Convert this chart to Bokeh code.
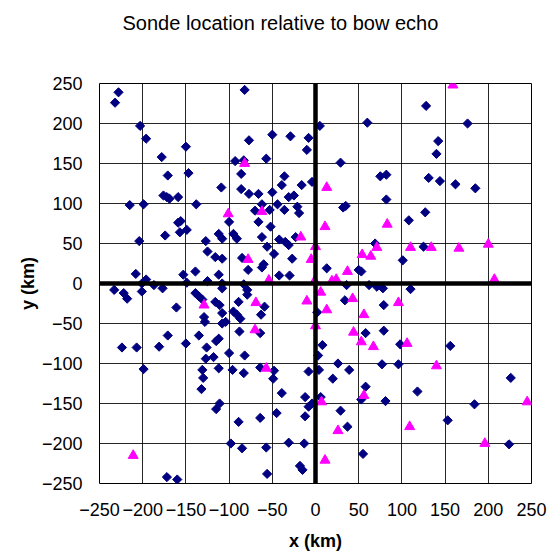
from bokeh.plotting import figure
from bokeh.models import FixedTicker, Span, Title
from bokeh.embed import file_html
from bokeh.resources import INLINE

tick_values = [-250, -200, -150, -100, -50, 0, 50, 100, 150, 200, 250]

diamond_x = [-228, -232, -203, -196, -178, -150, -171, -147, -109, -176, -172, -169, -159, -215, -199, -138,
             -82, 5, 60, -50, -29, -8, -77, -10, 29, -93, -83, -57, -86, 75, -36, -4, -39, -16, -86, -77, -66,
             -50, -31, -25, -44, -62, -70, -53, -36, -21, 32, 35, -19,
             128, 176, 142, 140, 82, 131, 144, 162, 185, 82, 127,
             -174, -204, -159, -156, -157, -149, -127, -125, -116, -108, -112,
             -208, -196, -201, -201, -233, -222, -218, -187, -177, -153, -149, -139, -125, -112, -108, -139, -135,
             -131, -161, -129, -128, -116, -111, -108, -108, -171, -135, -112, -115, -224, -207, -181, -150, -126,
             -199, -131, -127, -118, -112, -130, -132, -115, -111, -172, -160,
             -100, -66, -52, -108, -95, -91, -62, -42, -35, -31, -23, -56, -48, -27, -85, -60, -78, -62, 13, 50, 53,
             69, -42, -30, -83, -79, -108, 36, 62, 71, 34, -89, -79, -59, -63, -95, -91, -87, 2, -104, -88, -64, 58, 8,
             108, 125, 101, 78, 110, 79, 79, 98, 156,
             -100, -82, -96, -83, -64, -48, -49, -39, -8, 4, 3, 26, 39, 20, 58, 53, -12, 6, -4, -8, -45, -64, -89,
             -12, 29, 37, -98, -85, -57, -31, -13, 55, -18, -15, -56,
             77, 96, 226, 118, 81, 184, 153, 224]
diamond_y = [239, 226, 197, 181, 158, 171, 135, 138, 120, 110, 108, 106, 108, 98, 99, 99,
             242, 197, 201, 186, 184, 182, 179, 167, 151, 153, 154, 156, 137, 134, 134, 127, 123, 123, 118, 112, 112,
             114, 108, 110, 99, 99, 91, 92, 92, 96, 95, 97, 88,
             222, 200, 178, 162, 136, 132, 128, 124, 119, 105, 89,
             60, 53, 76, 78, 64, 67, 53, 40, 33, 31, 62,
             12, 5, 0, -10, -8, -12, -19, -2, -6, 11, 1, 15, 3, 11, 0, -12, -16,
             -20, -30, -42, -48, -23, -27, -37, -50, -65, -65, -69, -72, -80, -80, -79, -75, -80,
             -107, -108, -94, -92, -106, -118, -132, -157, -150, -242, -245,
             77, 77, 71, 56, 62, 56, 58, 55, 52, 48, 58, 46, 37, 31, 32, 24, 17, 20, 19, 17, 15,
             50, 10, 10, -1, -8, -6, -2, -2, -4, -21, -23, -14, -29, -39, -35, -39, -44, -36, -48, -60, -62, -62, -77,
             79, 46, 29, -6, -7, -27, -59, -76, -78,
             -87, -90, -108, -112, -105, -109, -119, -137, -110, -108, -90, -100, -108, -119, -129, -145, -142, -142,
             -150, -154, -162, -168, -173,
             -166, -159, -179, -200, -206, -205, -199, -200, -213, -228, -233, -238,
             -101, -101, -118, -135, -147, -151, -171, -201]

triangle_x = [-82, 13, -101, -62, 159, 11, -17, 0, -5, -78, 37, 54, 64, 71, -54, -1, 19, 24, 6, -10, 43, -69, 13,
              56, 0, -70, 44, 53, 67, -129, -211, 83, 110, 134, 166, 200, 207, 96, 106, -57, 56, 7, 26, 11, 140,
              245, 109, 196]
triangle_y = [150, 120, 87, 90, 248, 71, 58, 46, 30, 30, 15, 36, 34, 45, 4, 3, 3, 5, -11, -22, -19, -24, -33,
              -39, -53, -58, -61, -73, -79, -27, -215, 74, 45, 45, 44, 49, 5, -24, -75, -106, -140, -148, -184,
              -221, -103, -148, -179, -200]

FONT = "Liberation Sans"

p = figure(frame_width=432, frame_height=400, x_range=(-250, 250), y_range=(-250, 250),
           output_backend="svg", toolbar_location=None, title=None,
           min_border_left=99, min_border_right=19, min_border_top=83, min_border_bottom=68)

# spacer (empty) title closest to the frame, then the real title above it
p.add_layout(Title(text=" ", text_font=FONT, text_font_size="30px", standoff=10), "above")
p.add_layout(Title(text="Sonde location relative to bow echo", align="left", offset=23,
                   text_font=FONT, text_font_size="20px", text_font_style="normal",
                   text_color="black"), "above")

for ax in (p.xaxis[0], p.yaxis[0]):
    ax.ticker = FixedTicker(ticks=tick_values)
    ax.axis_line_color = None
    ax.major_tick_in = 0
    ax.major_tick_out = 0
    ax.minor_tick_in = 0
    ax.minor_tick_out = 0
    ax.major_label_text_font = FONT
    ax.major_label_text_font_size = "18px"
    ax.major_label_text_color = "black"
    ax.axis_label_text_font = FONT
    ax.axis_label_text_font_size = "18px"
    ax.axis_label_text_font_style = "bold"
    ax.axis_label_text_color = "black"

p.xaxis.axis_label = "x (km)"
p.yaxis.axis_label = "y (km)"
p.xaxis.major_label_standoff = 19
p.xaxis.axis_label_standoff = 12
p.yaxis.major_label_standoff = 17
p.yaxis.axis_label_standoff = 1

p.xgrid.ticker = FixedTicker(ticks=tick_values)
p.ygrid.ticker = FixedTicker(ticks=tick_values)
p.grid.grid_line_color = "black"
p.grid.grid_line_width = 1
p.grid.grid_line_alpha = 0.85

p.outline_line_color = "black"
p.outline_line_width = 1
p.background_fill_color = "white"
p.border_fill_color = "white"

p.add_layout(Span(location=0, dimension="height", line_color="black", line_width=4.5, line_cap="round"))
p.add_layout(Span(location=0, dimension="width", line_color="black", line_width=4.5, line_cap="round"))

p.scatter(diamond_x, diamond_y, marker="square", angle=0.785398, size=6.5,
          fill_color="#000080", line_color="#000080", line_width=1)
p.scatter(triangle_x, triangle_y, marker="triangle", size=10,
          fill_color="#FF00FF", line_color="#FF00FF", line_width=1)

open("out.html", "w").write(file_html(p, INLINE))
